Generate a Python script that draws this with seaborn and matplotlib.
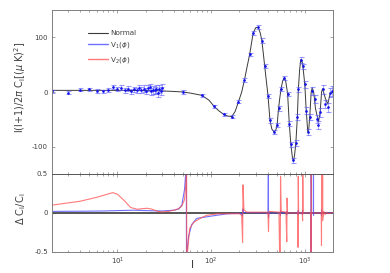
import numpy as np
import pandas as pd
import matplotlib
matplotlib.use('Agg')
import matplotlib.pyplot as plt
import seaborn as sns
from matplotlib.lines import Line2D
from matplotlib.ticker import LogLocator, NullFormatter

sns.set_style('ticks')
plt.rcParams['font.family'] = ['DejaVu Sans']
plt.rcParams['mathtext.fontset'] = 'dejavusans'
plt.rcParams['axes.unicode_minus'] = False

# ---- data ----
# theory curve (Normal), l(l+1)C_l/2pi
theory_l = [2, 5, 10, 20, 30, 40, 50, 60, 79, 95, 107, 120, 136, 150, 166, 180, 196, 212,
            227, 242, 258, 281, 300, 318, 335, 348, 360, 373, 390, 405, 425, 445, 470, 490,
            506, 525, 540, 557, 580, 604, 625, 645, 656, 683, 710, 740, 760, 780, 803, 833,
            854, 880, 905, 930, 955, 1000, 1036, 1076, 1100, 1130, 1170, 1200, 1245, 1300,
            1400, 1460, 1510, 1550, 1660, 1760, 1860, 2000]
theory_v = [3, 3, 3, 2.5, 2, 1, 0, -2, -6, -15, -26, -34, -41, -44, -45, -36, -18, 0,
            22, 46, 69, 108, 118, 118, 108, 94, 72, 48, 18, -7, -52, -68, -73, -70,
            -61, -30, -12, 5, 20, 26, 20, 5, -4, -58, -96, -122, -126, -114, -93, -46,
            5, 40, 59, 58, 47, 14, -34, -73, -70, -46, 0, 8, 0, -30,
            -55, -37, 0, 6, -12, -22, -4, 0]

# measured band powers with errors
data_l = list(range(2, 31)) + [50, 79, 107, 136, 166, 196, 227, 258, 281, 318, 348, 373,
                               405, 425, 470, 506, 525, 557, 604, 656, 683, 710, 752, 803,
                               833, 854, 905, 955, 1000, 1036, 1076, 1130, 1200, 1270, 1335,
                               1400, 1460, 1550, 1660, 1760, 1860, 1970]
data_v = [1, -1, 4, 5, 2, 1, 4, 9, 6, 8, 3, 6, 1, 5, 3, 8, 4, 6, 2, 7, 9, 1, 4, 3, 6, -2, 5, 2, 8,
          0, -6, -26, -41, -45, -18, 22, 69, 108, 119, 94, 48,
          -7, -52, -73, -61, -30, 5, 26, -4, -58, -96, -125, -93,
          -46, 5, 59, 47, 14, -34, -73, -46, 2, -13, -49,
          -61, -37, 5, -22, -28, -1, 2]
data_err = [3, 3, 3, 3, 3, 3, 4, 4, 4, 4, 4, 5, 5, 5, 5, 5, 6, 6, 6, 6, 6, 6, 7, 7, 7, 7, 7, 7, 7,
            3, 3, 3, 3, 3, 3, 3, 3, 4, 4, 4, 4,
            4, 4, 4, 4, 4, 4, 4, 4, 4, 5, 5, 5,
            5, 5, 5, 5, 6, 6, 6, 6, 7, 7, 7,
            7, 8, 8, 8, 8, 9, 9]

# relative difference Delta C_l / C_l
v1_l = [2, 4, 7, 10, 15, 20, 30, 40, 45, 48.7, 52, 53.5, 54.3, 54.6, 55.2, 57.4, 62, 70, 101,
        150, 210, 216, 218, 222, 300, 405, 409, 410, 412, 420, 545, 549, 550, 552, 560,
        640, 644, 645, 650, 845, 849, 850, 855, 940, 944, 945, 950, 1160, 1168, 1169, 1175,
        1235, 1239, 1240, 1245, 1500, 1508, 1509, 1515, 1700, 2000]
v1_v = [0.02, 0.022, 0.025, 0.03, 0.035, 0.03, 0.025, 0.035, 0.05, 0.1, 0.3, 0.5, 0.9, -0.9,
        -0.5, -0.3, -0.15, -0.07, -0.04,
        -0.01, -0.005, -0.04, 0.05, 0.005, 0.003, 0.0, 0.9, -0.06, 0.0, 0.0, 0.0, -0.03, 0.03, 0.0, 0.0,
        0.0, -0.02, 0.02, 0.0, 0.0, -0.02, 0.03, 0.0, 0.0, -0.02, 0.03, 0.0, 0.0, -0.9, 0.9, 0.0,
        0.0, 0.9, -0.03, 0.0, 0.0, -0.03, 0.04, 0.0, 0.0, 0.0]
v2_l = [2, 4, 6, 8.9, 10, 12, 13.8, 16.3, 18.5, 20.8, 23, 27, 30, 35, 40, 45, 48.7, 52, 54,
        54.7, 55.0, 56, 59, 65, 79, 90, 120, 200, 212, 217, 219, 224, 240, 390, 405, 410,
        414, 530, 545, 551, 560, 630, 642, 647, 655, 840, 848, 852, 860, 940, 948, 952, 960,
        1160, 1169.5, 1171, 1180, 1500, 1508, 1512, 1520, 1545, 1550, 1555, 1600, 1650,
        1700, 1800, 1900, 2000]
v2_v = [0.10, 0.15, 0.2, 0.26, 0.24, 0.15, 0.07, 0.047, 0.055, 0.06, 0.05, 0.02, 0.013, 0.02,
        0.035, 0.055, 0.09, 0.17, 0.4,
        0.9, -0.9, -0.5, -0.2, -0.12, -0.06, -0.03, -0.01, -0.01, -0.03, -0.38, 0.36, 0.04, 0.01,
        0.01, -0.02, -0.24,
        0.02, 0.01, -0.9, 0.47, 0.02, 0.01, -0.37, 0.19, 0.0, 0.0, -0.44, 0.47, 0.0, 0.0, -0.1,
        0.5, 0.0,
        0.0, -0.9, 0.9, 0.0, 0.0, -0.42, 0.9, 0.0, 0.0, 0.5, -0.1, 0.02, -0.02,
        0.01, -0.01, 0.0, 0.0]

legend_labels = ['Normal', r'V$_1$($\phi$)', r'V$_2$($\phi$)']
top_yticks = [-100, 0, 100]
top_yticklabels = ['-100', '0', '100']
bot_yticks = [-0.5, 0, 0.5]
bot_yticklabels = ['-0.5', '0', '0.5']

c_norm = '#3a3a3a'
c_v1 = (0.25, 0.25, 1.0, 0.75)
c_v2 = (1.0, 0.3, 0.3, 0.75)
c_axis = '#808080'
c_text = '#404040'

fig = plt.figure(figsize=(3.9, 2.73), dpi=100)
ax1 = fig.add_axes([0.1333, 0.363, 0.7205, 0.600])
ax2 = fig.add_axes([0.1333, 0.077, 0.7205, 0.286])

# ---- top panel ----
sns.lineplot(x=theory_l, y=theory_v, ax=ax1, color=c_norm, lw=0.7,
             estimator=None, sort=False)
ax1.errorbar(data_l, data_v, yerr=data_err, fmt='.', ms=1.8, color='#1010ee',
             ecolor=(0.35, 0.35, 1.0, 0.6), elinewidth=0.6, capsize=1.8, capthick=0.8)
ax1.set_ylim(-150, 150)
ax1.set_yticks(top_yticks)
ax1.set_yticklabels(top_yticklabels)
ax1.set_ylabel(r'l(l+1)/2$\pi$ C$_\mathrm{l}$[($\mu$ K)$^2$]', fontsize=7, color=c_text)
ax1.yaxis.set_label_coords(-0.085, 0.53)

handles = [Line2D([], [], color=c_norm, lw=0.8),
           Line2D([], [], color=c_v1, lw=1.0),
           Line2D([], [], color=c_v2, lw=1.0)]
leg = ax1.legend(handles, legend_labels, loc='upper left', bbox_to_anchor=(0.115, 0.9),
                 frameon=False, fontsize=5.2, handlelength=2.8, handletextpad=0.3,
                 labelspacing=0.6, borderpad=0)
for t in leg.get_texts():
    t.set_color(c_text)

# ---- bottom panel ----
sns.lineplot(x=[2, 2000], y=[0, 0], ax=ax2, color=c_norm, lw=1.2,
             estimator=None, sort=False)
sns.lineplot(x=v1_l, y=v1_v, ax=ax2, color=c_v1, lw=0.8, estimator=None, sort=False)
sns.lineplot(x=v2_l, y=v2_v, ax=ax2, color=c_v2, lw=0.8, estimator=None, sort=False)
ax2.set_ylim(-0.5, 0.5)
ax2.set_yticks(bot_yticks)
ax2.set_yticklabels(bot_yticklabels)
ax2.set_ylabel(r'$\Delta$ C$_\mathrm{l}$/C$_\mathrm{l}$', fontsize=7, color=c_text)
ax2.yaxis.set_label_coords(-0.085, 0.55)
ax2.set_xlabel('l', fontsize=8, color=c_text)
ax2.xaxis.set_label_coords(0.5, -0.1)

for ax in (ax1, ax2):
    ax.set_xscale('log')
    ax.set_xlim(2, 2000)
    ax.xaxis.set_major_locator(LogLocator(base=10))
    ax.xaxis.set_minor_locator(LogLocator(base=10, subs=np.arange(2, 10)))
    ax.xaxis.set_minor_formatter(NullFormatter())
    ax.tick_params(which='both', direction='in', top=True, right=True, width=0.5,
                   color=c_axis, labelsize=5, labelcolor=c_text, pad=3,
                   labelleft=True, labelright=False)
    ax.tick_params(which='major', length=2.5)
    ax.tick_params(which='minor', length=1.5)
    for s in ax.spines.values():
        s.set_color(c_axis)
        s.set_linewidth(0.7)
ax1.tick_params(labelbottom=False)
ax1.spines['bottom'].set_color('#555555')
ax2.spines['top'].set_color('#555555')

fig.savefig('out.png', dpi=100)
